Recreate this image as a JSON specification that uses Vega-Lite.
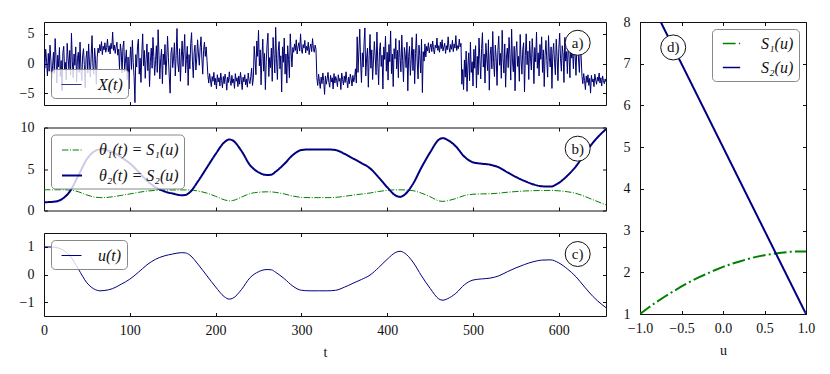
{
  "$schema": "https://vega.github.io/schema/vega-lite/v6.json",
  "padding": {"left": 18, "top": 14, "right": 10, "bottom": 5},
  "background": "white",
  "config": {
    "font": "Liberation Serif, serif",
    "view": {"stroke": "#111", "strokeWidth": 1},
    "axis": {"domain": false, "grid": false, "tickSize": -3.5, "tickColor": "#111", "tickWidth": 1, "labelFont": "Liberation Serif, serif", "labelFontSize": 14, "labelColor": "#111", "labelFlush": false, "labelOverlap": false, "titleFont": "Liberation Serif, serif", "titleFontSize": 14, "titleFontWeight": "normal", "titleColor": "#111", "minExtent": 0},
    "axisX": {"labelPadding": 10.5, "titlePadding": 8},
    "axisY": {"labelPadding": 13.5},
    "legend": {"title": null, "fillColor": "rgba(255,255,255,0.8)", "strokeColor": "#888", "cornerRadius": 4, "padding": 5, "labelFont": "Liberation Serif, serif", "labelFontSize": 16, "labelFontStyle": "italic", "labelColor": "#111", "symbolType": "stroke", "symbolSize": 400, "symbolOffset": 5, "labelOffset": 16, "rowPadding": 6, "offset": 7}
  },
  "datasets": {
    "noise": [
      {"t":0,"x":1.2},{"t":1,"x":-0.8},{"t":2,"x":2.4},{"t":3,"x":0.3},{"t":4,"x":-2.1},{"t":5,"x":1.7},{"t":6,"x":-1.3},{"t":7,"x":3.1},{"t":8,"x":0.6},{"t":9,"x":-2.6},{"t":10,"x":-0.4},{"t":11,"x":1.9},{"t":12,"x":-1.7},{"t":13,"x":4.2},{"t":14,"x":0.9},{"t":15,"x":-3.3},{"t":16,"x":1.4},{"t":17,"x":-0.6},{"t":18,"x":2.7},{"t":19,"x":-2.2},{"t":20,"x":0.5},{"t":21,"x":-4.6},{"t":22,"x":1.8},{"t":23,"x":2.9},{"t":24,"x":-1.1},{"t":25,"x":0.2},{"t":26,"x":-2.8},{"t":27,"x":3.4},{"t":28,"x":1.1},{"t":29,"x":-0.9},{"t":30,"x":2.2},{"t":31,"x":-1.9},{"t":32,"x":5.1},{"t":33,"x":0.4},{"t":34,"x":-2.4},{"t":35,"x":1.6},{"t":36,"x":-0.3},{"t":37,"x":2.8},{"t":38,"x":-3.1},{"t":39,"x":0.8},{"t":40,"x":1.9},{"t":41,"x":-1.5},{"t":42,"x":3.6},{"t":43,"x":-0.7},{"t":44,"x":-2.9},{"t":45,"x":1.3},{"t":46,"x":2.5},{"t":47,"x":-0.2},{"t":48,"x":-4.1},{"t":49,"x":0.9},{"t":50,"x":2.1},{"t":51,"x":-1.6},{"t":52,"x":3.3},{"t":53,"x":0.1},{"t":54,"x":-2.3},{"t":55,"x":1.5},{"t":56,"x":4.7},{"t":57,"x":-0.5},{"t":58,"x":-1.8},{"t":59,"x":2.6},{"t":60,"x":0.7},{"t":61,"x":-3.5},{"t":62,"x":1.0},
      {"t":63,"x":2.6},{"t":64,"x":1.8},{"t":65,"x":3.2},{"t":66,"x":2.1},{"t":67,"x":3.7},{"t":68,"x":1.5},{"t":69,"x":2.9},{"t":70,"x":2.3},{"t":71,"x":3.5},{"t":72,"x":1.9},{"t":73,"x":2.7},{"t":74,"x":4.1},{"t":75,"x":2.0},{"t":76,"x":3.0},{"t":77,"x":1.6},{"t":78,"x":3.4},{"t":79,"x":2.5},{"t":80,"x":5.3},{"t":81,"x":2.2},{"t":82,"x":3.1},{"t":83,"x":1.7},{"t":84,"x":2.8},{"t":85,"x":3.6},{"t":86,"x":1.4},{"t":87,"x":2.4},{"t":88,"x":-0.9},{"t":89,"x":3.3},{"t":90,"x":2.0},{"t":91,"x":-1.6},{"t":92,"x":2.7},{"t":93,"x":3.8},
      {"t":94,"x":-1.4},{"t":95,"x":0.6},{"t":96,"x":2.3},{"t":97,"x":-2.7},{"t":98,"x":1.1},{"t":99,"x":-4.3},{"t":100,"x":0.4},{"t":101,"x":2.8},{"t":102,"x":-1.0},{"t":103,"x":3.9},{"t":104,"x":0.2},{"t":105,"x":-2.2},{"t":106,"x":-6.6},{"t":107,"x":1.5},{"t":108,"x":-0.6},{"t":109,"x":2.9},{"t":110,"x":4.1},{"t":111,"x":-1.8},{"t":112,"x":0.9},{"t":113,"x":-3.2},{"t":114,"x":1.7},{"t":115,"x":5.0},{"t":116,"x":-0.4},{"t":117,"x":2.2},{"t":118,"x":-2.5},{"t":119,"x":0.7},{"t":120,"x":3.3},{"t":121,"x":-1.2},{"t":122,"x":1.9},{"t":123,"x":-3.9},{"t":124,"x":0.3},{"t":125,"x":2.6},{"t":126,"x":-0.8},{"t":127,"x":4.4},{"t":128,"x":1.2},{"t":129,"x":-2.0},{"t":130,"x":0.5},{"t":131,"x":3.0},{"t":132,"x":-1.5},{"t":133,"x":5.7},{"t":134,"x":1.4},{"t":135,"x":-2.6},{"t":136,"x":0.8},{"t":137,"x":2.4},{"t":138,"x":-3.4},{"t":139,"x":1.6},{"t":140,"x":-0.2},{"t":141,"x":3.2},{"t":142,"x":-1.9},{"t":143,"x":0.6},{"t":144,"x":4.6},{"t":145,"x":1.0},{"t":146,"x":-2.3},{"t":147,"x":-5.0},{"t":148,"x":1.8},{"t":149,"x":2.7},{"t":150,"x":-0.7},{"t":151,"x":0.9},{"t":152,"x":3.5},{"t":153,"x":-2.1},{"t":154,"x":1.3},{"t":155,"x":5.9},{"t":156,"x":0.1},{"t":157,"x":-1.4},{"t":158,"x":2.5},{"t":159,"x":-3.0},{"t":160,"x":1.1},{"t":161,"x":3.8},{"t":162,"x":-0.5},{"t":163,"x":2.0},{"t":164,"x":4.9},{"t":165,"x":-1.6},{"t":166,"x":0.7},{"t":167,"x":2.9},{"t":168,"x":-3.7},{"t":169,"x":1.5},{"t":170,"x":-0.9},{"t":171,"x":3.4},{"t":172,"x":5.2},{"t":173,"x":0.4},{"t":174,"x":-2.4},{"t":175,"x":1.9},{"t":176,"x":3.1},{"t":177,"x":-1.1},{"t":178,"x":0.8},{"t":179,"x":4.0},{"t":180,"x":1.6},{"t":181,"x":-0.3},{"t":182,"x":2.7},{"t":183,"x":4.5},{"t":184,"x":0.9},{"t":185,"x":-1.8},{"t":186,"x":2.2},{"t":187,"x":3.6},{"t":188,"x":1.2},{"t":189,"x":2.8},{"t":190,"x":0.5},
      {"t":191,"x":-2.0},{"t":192,"x":-3.3},{"t":193,"x":-1.7},{"t":194,"x":-2.8},{"t":195,"x":-3.9},{"t":196,"x":-2.2},{"t":197,"x":-3.0},{"t":198,"x":-1.5},{"t":199,"x":-3.6},{"t":200,"x":-2.5},{"t":201,"x":-4.3},{"t":202,"x":-1.9},{"t":203,"x":-3.1},{"t":204,"x":-2.4},{"t":205,"x":-3.8},{"t":206,"x":-1.6},{"t":207,"x":-2.9},{"t":208,"x":-4.1},{"t":209,"x":-2.2},{"t":210,"x":-3.4},{"t":211,"x":-1.8},{"t":212,"x":-2.7},{"t":213,"x":-4.5},{"t":214,"x":-2.3},{"t":215,"x":-3.2},{"t":216,"x":-1.4},{"t":217,"x":-2.9},{"t":218,"x":-3.7},{"t":219,"x":-2.0},{"t":220,"x":-3.3},{"t":221,"x":-2.6},{"t":222,"x":-4.2},{"t":223,"x":-1.7},{"t":224,"x":-3.0},{"t":225,"x":-2.4},{"t":226,"x":-3.9},{"t":227,"x":-2.1},{"t":228,"x":-3.5},{"t":229,"x":-1.5},{"t":230,"x":-2.8},{"t":231,"x":-4.4},{"t":232,"x":-2.3},{"t":233,"x":-3.1},{"t":234,"x":-1.9},{"t":235,"x":-3.6},{"t":236,"x":-2.6},{"t":237,"x":-4.0},{"t":238,"x":-1.6},{"t":239,"x":-2.9},{"t":240,"x":-3.4},{"t":241,"x":-2.2},{"t":242,"x":-0.8},{"t":243,"x":-3.7},{"t":244,"x":-2.5},
      {"t":245,"x":2.9},{"t":246,"x":0.6},{"t":247,"x":-1.9},{"t":248,"x":3.8},{"t":249,"x":1.2},{"t":250,"x":5.6},{"t":251,"x":-0.4},{"t":252,"x":2.3},{"t":253,"x":-3.6},{"t":254,"x":0.9},{"t":255,"x":4.1},{"t":256,"x":-1.3},{"t":257,"x":1.7},{"t":258,"x":-4.4},{"t":259,"x":0.3},{"t":260,"x":3.2},{"t":261,"x":5.1},{"t":262,"x":-2.2},{"t":263,"x":1.0},{"t":264,"x":-0.7},{"t":265,"x":2.6},{"t":266,"x":-3.0},{"t":267,"x":4.4},{"t":268,"x":1.5},{"t":269,"x":-1.6},{"t":270,"x":6.1},{"t":271,"x":0.8},{"t":272,"x":-2.7},{"t":273,"x":2.1},{"t":274,"x":3.7},{"t":275,"x":-0.9},{"t":276,"x":1.3},{"t":277,"x":-4.8},{"t":278,"x":2.8},{"t":279,"x":0.2},{"t":280,"x":4.3},{"t":281,"x":-1.8},{"t":282,"x":1.6},{"t":283,"x":-3.3},{"t":284,"x":3.0},{"t":285,"x":0.7},{"t":286,"x":-2.4},{"t":287,"x":5.0},{"t":288,"x":1.9},{"t":289,"x":-0.6},
      {"t":290,"x":2.7},{"t":291,"x":1.9},{"t":292,"x":3.3},{"t":293,"x":2.2},{"t":294,"x":4.0},{"t":295,"x":1.6},{"t":296,"x":2.8},{"t":297,"x":3.5},{"t":298,"x":2.1},{"t":299,"x":5.0},{"t":300,"x":2.4},{"t":301,"x":1.7},{"t":302,"x":3.2},{"t":303,"x":2.6},{"t":304,"x":3.9},{"t":305,"x":1.8},{"t":306,"x":2.9},{"t":307,"x":2.2},{"t":308,"x":3.6},{"t":309,"x":1.5},{"t":310,"x":2.7},{"t":311,"x":3.3},{"t":312,"x":2.0},{"t":313,"x":4.2},{"t":314,"x":2.5},{"t":315,"x":1.9},{"t":316,"x":3.1},{"t":317,"x":2.4},
      {"t":318,"x":-2.4},{"t":319,"x":-3.7},{"t":320,"x":-1.8},{"t":321,"x":-3.0},{"t":322,"x":-4.2},{"t":323,"x":-2.3},{"t":324,"x":-3.4},{"t":325,"x":-1.6},{"t":326,"x":-2.9},{"t":327,"x":-5.2},{"t":328,"x":-2.1},{"t":329,"x":-3.5},{"t":330,"x":-2.6},{"t":331,"x":-1.5},{"t":332,"x":-3.2},{"t":333,"x":-4.0},{"t":334,"x":-2.0},{"t":335,"x":-3.1},{"t":336,"x":-2.4},{"t":337,"x":-4.3},{"t":338,"x":-1.7},{"t":339,"x":-3.3},{"t":340,"x":-2.2},{"t":341,"x":-2.8},{"t":342,"x":-3.9},{"t":343,"x":-1.9},{"t":344,"x":-3.0},{"t":345,"x":-2.5},{"t":346,"x":-4.4},{"t":347,"x":-1.6},{"t":348,"x":-2.7},{"t":349,"x":-3.6},{"t":350,"x":-2.1},{"t":351,"x":-3.2},{"t":352,"x":-1.4},{"t":353,"x":-2.9},{"t":354,"x":-4.1},{"t":355,"x":-2.3},{"t":356,"x":-3.4},{"t":357,"x":-1.8},{"t":358,"x":-2.6},{"t":359,"x":-3.8},{"t":360,"x":-2.0},{"t":361,"x":-3.1},{"t":362,"x":-2.4},{"t":363,"x":-0.9},{"t":364,"x":-3.3},
      {"t":365,"x":4.5},{"t":366,"x":-1.5},{"t":367,"x":2.1},{"t":368,"x":5.8},{"t":369,"x":0.4},{"t":370,"x":-3.2},{"t":371,"x":1.8},{"t":372,"x":-0.6},{"t":373,"x":3.4},{"t":374,"x":6.0},{"t":375,"x":-2.1},{"t":376,"x":0.9},{"t":377,"x":2.6},{"t":378,"x":-4.0},{"t":379,"x":1.3},{"t":380,"x":4.9},{"t":381,"x":-0.8},{"t":382,"x":2.3},{"t":383,"x":-2.7},{"t":384,"x":0.6},{"t":385,"x":3.7},{"t":386,"x":1.1},{"t":387,"x":-1.9},{"t":388,"x":5.3},{"t":389,"x":0.2},{"t":390,"x":-3.6},{"t":391,"x":2.0},{"t":392,"x":3.5},{"t":393,"x":-0.5},{"t":394,"x":1.4},{"t":395,"x":-4.3},{"t":396,"x":2.8},{"t":397,"x":0.7},{"t":398,"x":4.6},{"t":399,"x":-1.3},{"t":400,"x":1.9},{"t":401,"x":-2.8},{"t":402,"x":3.2},{"t":403,"x":0.3},{"t":404,"x":5.5},{"t":405,"x":-1.7},{"t":406,"x":1.6},{"t":407,"x":-3.9},{"t":408,"x":2.5},{"t":409,"x":0.8},{"t":410,"x":4.2},{"t":411,"x":-0.9},{"t":412,"x":2.2},{"t":413,"x":-2.4},{"t":414,"x":3.9},{"t":415,"x":1.0},{"t":416,"x":-1.4},{"t":417,"x":4.8},{"t":418,"x":0.5},{"t":419,"x":-3.1},{"t":420,"x":2.7},{"t":421,"x":1.5},{"t":422,"x":-0.7},{"t":423,"x":3.6},{"t":424,"x":-4.6},{"t":425,"x":1.2},{"t":426,"x":2.9},{"t":427,"x":-2.0},{"t":428,"x":0.6},{"t":429,"x":4.4},{"t":430,"x":-1.2},{"t":431,"x":2.4},{"t":432,"x":-3.4},{"t":433,"x":1.7},{"t":434,"x":5.0},{"t":435,"x":0.1},{"t":436,"x":-2.6},{"t":437,"x":3.1},{"t":438,"x":1.3},{"t":439,"x":-1.6},{"t":440,"x":4.1},{"t":441,"x":-4.9},{"t":442,"x":2.0},{"t":443,"x":0.4},{"t":444,"x":3.3},{"t":445,"x":1.1},
      {"t":446,"x":2.9},{"t":447,"x":2.1},{"t":448,"x":3.5},{"t":449,"x":1.8},{"t":450,"x":2.7},{"t":451,"x":3.3},{"t":452,"x":2.0},{"t":453,"x":3.8},{"t":454,"x":2.4},{"t":455,"x":1.6},{"t":456,"x":3.1},{"t":457,"x":2.6},{"t":458,"x":4.3},{"t":459,"x":2.2},{"t":460,"x":3.0},{"t":461,"x":1.9},{"t":462,"x":3.6},{"t":463,"x":2.5},{"t":464,"x":4.0},{"t":465,"x":2.1},{"t":466,"x":2.8},{"t":467,"x":3.4},{"t":468,"x":1.7},{"t":469,"x":3.0},{"t":470,"x":2.3},{"t":471,"x":4.5},{"t":472,"x":2.7},{"t":473,"x":1.9},{"t":474,"x":3.2},{"t":475,"x":2.4},{"t":476,"x":3.9},{"t":477,"x":2.0},{"t":478,"x":3.3},{"t":479,"x":2.6},{"t":480,"x":4.7},{"t":481,"x":2.2},{"t":482,"x":3.0},{"t":483,"x":2.5},{"t":484,"x":4.1},{"t":485,"x":2.8},{"t":486,"x":3.4},
      {"t":487,"x":-3.5},{"t":488,"x":-1.0},{"t":489,"x":-4.4},{"t":490,"x":0.6},{"t":491,"x":-2.3},{"t":492,"x":2.1},{"t":493,"x":-4.7},{"t":494,"x":-0.4},{"t":495,"x":1.8},{"t":496,"x":-2.9},{"t":497,"x":3.6},{"t":498,"x":-1.5},{"t":499,"x":0.3},{"t":500,"x":-3.8},{"t":501,"x":2.4},{"t":502,"x":-0.8},{"t":503,"x":3.0},{"t":504,"x":-4.1},{"t":505,"x":1.2},{"t":506,"x":-1.9},{"t":507,"x":4.3},{"t":508,"x":0.7},{"t":509,"x":-2.6},{"t":510,"x":2.5},{"t":511,"x":5.2},{"t":512,"x":-0.6},{"t":513,"x":1.6},{"t":514,"x":-3.3},{"t":515,"x":3.4},{"t":516,"x":0.9},{"t":517,"x":-1.2},{"t":518,"x":4.0},{"t":519,"x":-4.5},{"t":520,"x":1.4},{"t":521,"x":2.8},{"t":522,"x":-0.9},{"t":523,"x":5.4},{"t":524,"x":0.2},{"t":525,"x":-2.2},{"t":526,"x":3.1},{"t":527,"x":1.0},{"t":528,"x":-3.7},{"t":529,"x":2.2},{"t":530,"x":4.6},{"t":531,"x":-0.3},{"t":532,"x":1.7},{"t":533,"x":-2.5},{"t":534,"x":5.6},{"t":535,"x":0.8},{"t":536,"x":-1.6},{"t":537,"x":3.3},{"t":538,"x":-4.0},{"t":539,"x":1.1},{"t":540,"x":2.6},{"t":541,"x":-0.7},{"t":542,"x":4.4},{"t":543,"x":1.5},{"t":544,"x":-2.8},{"t":545,"x":5.8},{"t":546,"x":0.4},{"t":547,"x":-1.4},{"t":548,"x":2.9},{"t":549,"x":-4.6},{"t":550,"x":1.9},{"t":551,"x":3.7},{"t":552,"x":-0.5},{"t":553,"x":1.2},{"t":554,"x":-3.0},{"t":555,"x":4.9},{"t":556,"x":0.6},{"t":557,"x":-1.8},{"t":558,"x":2.4},{"t":559,"x":3.5},{"t":560,"x":-4.8},{"t":561,"x":1.3},{"t":562,"x":5.0},{"t":563,"x":-0.2},{"t":564,"x":2.1},{"t":565,"x":-2.7},{"t":566,"x":3.8},{"t":567,"x":0.9},{"t":568,"x":-1.1},{"t":569,"x":4.2},{"t":570,"x":1.6},{"t":571,"x":-3.4},{"t":572,"x":2.7},{"t":573,"x":0.3},{"t":574,"x":5.3},{"t":575,"x":-0.8},{"t":576,"x":1.8},{"t":577,"x":-2.1},{"t":578,"x":3.2},{"t":579,"x":0.7},{"t":580,"x":4.5},{"t":581,"x":-1.5},{"t":582,"x":2.3},{"t":583,"x":-3.9},{"t":584,"x":1.4},{"t":585,"x":3.9},{"t":586,"x":0.5},{"t":587,"x":-2.3},{"t":588,"x":4.7},{"t":589,"x":1.0},{"t":590,"x":-0.6},{"t":591,"x":2.8},{"t":592,"x":-4.2},{"t":593,"x":1.7},{"t":594,"x":3.4},{"t":595,"x":0.2},{"t":596,"x":-1.9},{"t":597,"x":4.1},{"t":598,"x":1.2},{"t":599,"x":-2.9},{"t":600,"x":2.5},{"t":601,"x":5.1},{"t":602,"x":0.8},{"t":603,"x":-1.3},{"t":604,"x":3.0},{"t":605,"x":1.6},{"t":606,"x":-3.2},{"t":607,"x":4.4},{"t":608,"x":0.4},{"t":609,"x":2.0},{"t":610,"x":-1.7},{"t":611,"x":3.6},{"t":612,"x":1.1},{"t":613,"x":-2.4},{"t":614,"x":4.8},{"t":615,"x":0.9},{"t":616,"x":2.2},{"t":617,"x":-0.9},{"t":618,"x":3.3},{"t":619,"x":1.5},{"t":620,"x":-2.0},{"t":621,"x":2.6},{"t":622,"x":4.0},{"t":623,"x":0.6},{"t":624,"x":-1.5},{"t":625,"x":2.9},{"t":626,"x":1.3},
      {"t":627,"x":-2.2},{"t":628,"x":-3.4},{"t":629,"x":-1.7},{"t":630,"x":-2.9},{"t":631,"x":-4.4},{"t":632,"x":-2.1},{"t":633,"x":-3.2},{"t":634,"x":-1.9},{"t":635,"x":-3.7},{"t":636,"x":-2.5},{"t":637,"x":-5.0},{"t":638,"x":-2.0},{"t":639,"x":-3.1},{"t":640,"x":-2.6},{"t":641,"x":-3.9},{"t":642,"x":-1.8},{"t":643,"x":-2.8},{"t":644,"x":-3.5},{"t":645,"x":-2.3},{"t":646,"x":-3.0},{"t":647,"x":-1.6},{"t":648,"x":-3.3},{"t":649,"x":-2.4},{"t":650,"x":-3.8},{"t":651,"x":-2.1},{"t":652,"x":-2.9},{"t":653,"x":-3.4},{"t":654,"x":-2.6},{"t":655,"x":-3.1}
    ],
    "traj": [
      {"t":0,"u":1.00,"th1":2.50,"th2":1.00},{"t":10,"u":0.99,"th1":2.50,"th2":1.04},{"t":20,"u":0.92,"th1":2.50,"th2":1.32},{"t":30,"u":0.68,"th1":2.46,"th2":2.28},{"t":40,"u":0.20,"th1":2.26,"th2":4.20},{"t":50,"u":-0.30,"th1":1.87,"th2":6.20},{"t":60,"u":-0.55,"th1":1.60,"th2":7.20},{"t":65,"u":-0.59,"th1":1.55,"th2":7.36},{"t":70,"u":-0.58,"th1":1.56,"th2":7.32},{"t":80,"u":-0.51,"th1":1.65,"th2":7.04},{"t":90,"u":-0.35,"th1":1.82,"th2":6.40},{"t":100,"u":-0.17,"th1":1.99,"th2":5.68},{"t":110,"u":0.08,"th1":2.18,"th2":4.68},{"t":120,"u":0.35,"th1":2.34,"th2":3.60},{"t":130,"u":0.55,"th1":2.42,"th2":2.80},{"t":140,"u":0.67,"th1":2.46,"th2":2.32},{"t":150,"u":0.74,"th1":2.47,"th2":2.04},{"t":160,"u":0.79,"th1":2.48,"th2":1.84},{"t":165,"u":0.78,"th1":2.48,"th2":1.88},{"t":170,"u":0.70,"th1":2.47,"th2":2.20},{"t":180,"u":0.35,"th1":2.34,"th2":3.60},{"t":190,"u":-0.05,"th1":2.09,"th2":5.20},{"t":200,"u":-0.45,"th1":1.71,"th2":6.80},{"t":210,"u":-0.80,"th1":1.29,"th2":8.20},{"t":216,"u":-0.89,"th1":1.16,"th2":8.56},{"t":220,"u":-0.86,"th1":1.20,"th2":8.44},{"t":230,"u":-0.55,"th1":1.60,"th2":7.20},{"t":240,"u":-0.12,"th1":2.03,"th2":5.48},{"t":250,"u":0.10,"th1":2.20,"th2":4.60},{"t":260,"u":0.18,"th1":2.25,"th2":4.28},{"t":265,"u":0.17,"th1":2.24,"th2":4.32},{"t":270,"u":0.08,"th1":2.18,"th2":4.68},{"t":280,"u":-0.15,"th1":2.00,"th2":5.60},{"t":290,"u":-0.42,"th1":1.74,"th2":6.68},{"t":300,"u":-0.57,"th1":1.58,"th2":7.28},{"t":310,"u":-0.59,"th1":1.55,"th2":7.36},{"t":320,"u":-0.59,"th1":1.55,"th2":7.36},{"t":330,"u":-0.59,"th1":1.55,"th2":7.36},{"t":340,"u":-0.57,"th1":1.58,"th2":7.28},{"t":350,"u":-0.46,"th1":1.70,"th2":6.84},{"t":360,"u":-0.32,"th1":1.85,"th2":6.28},{"t":370,"u":-0.18,"th1":1.98,"th2":5.72},{"t":380,"u":-0.02,"th1":2.11,"th2":5.08},{"t":390,"u":0.25,"th1":2.29,"th2":4.00},{"t":400,"u":0.55,"th1":2.42,"th2":2.80},{"t":410,"u":0.80,"th1":2.49,"th2":1.80},{"t":415,"u":0.84,"th1":2.49,"th2":1.64},{"t":420,"u":0.78,"th1":2.48,"th2":1.88},{"t":430,"u":0.45,"th1":2.39,"th2":3.20},{"t":440,"u":-0.05,"th1":2.09,"th2":5.20},{"t":450,"u":-0.50,"th1":1.66,"th2":7.00},{"t":460,"u":-0.88,"th1":1.17,"th2":8.52},{"t":465,"u":-0.93,"th1":1.10,"th2":8.72},{"t":470,"u":-0.88,"th1":1.17,"th2":8.52},{"t":480,"u":-0.68,"th1":1.44,"th2":7.72},{"t":490,"u":-0.37,"th1":1.80,"th2":6.48},{"t":500,"u":-0.20,"th1":1.96,"th2":5.80},{"t":510,"u":-0.16,"th1":2.00,"th2":5.64},{"t":520,"u":-0.13,"th1":2.02,"th2":5.52},{"t":530,"u":-0.05,"th1":2.09,"th2":5.20},{"t":540,"u":0.10,"th1":2.20,"th2":4.60},{"t":550,"u":0.24,"th1":2.28,"th2":4.04},{"t":560,"u":0.36,"th1":2.35,"th2":3.56},{"t":570,"u":0.46,"th1":2.39,"th2":3.16},{"t":580,"u":0.52,"th1":2.41,"th2":2.92},{"t":590,"u":0.53,"th1":2.42,"th2":2.88},{"t":600,"u":0.42,"th1":2.37,"th2":3.32},{"t":610,"u":0.20,"th1":2.26,"th2":4.20},{"t":620,"u":-0.08,"th1":2.06,"th2":5.32},{"t":630,"u":-0.45,"th1":1.71,"th2":6.80},{"t":640,"u":-0.80,"th1":1.29,"th2":8.20},{"t":650,"u":-1.08,"th1":0.88,"th2":9.32},{"t":655,"u":-1.20,"th1":0.69,"th2":9.80}
    ],
    "curves": [
      {"u":-1.0,"S1":1.00,"S2":9.0},{"u":-0.9,"S1":1.15,"S2":8.6},{"u":-0.8,"S1":1.29,"S2":8.2},{"u":-0.7,"S1":1.42,"S2":7.8},{"u":-0.6,"S1":1.54,"S2":7.4},{"u":-0.5,"S1":1.66,"S2":7.0},{"u":-0.4,"S1":1.77,"S2":6.6},{"u":-0.3,"S1":1.87,"S2":6.2},{"u":-0.2,"S1":1.96,"S2":5.8},{"u":-0.1,"S1":2.05,"S2":5.4},{"u":0.0,"S1":2.13,"S2":5.0},{"u":0.1,"S1":2.20,"S2":4.6},{"u":0.2,"S1":2.26,"S2":4.2},{"u":0.3,"S1":2.32,"S2":3.8},{"u":0.4,"S1":2.37,"S2":3.4},{"u":0.5,"S1":2.41,"S2":3.0},{"u":0.6,"S1":2.44,"S2":2.6},{"u":0.7,"S1":2.47,"S2":2.2},{"u":0.8,"S1":2.49,"S2":1.8},{"u":0.9,"S1":2.50,"S2":1.4},{"u":1.0,"S1":2.50,"S2":1.0}
    ]
  },
  "resolve": {"scale": {"color": "independent", "strokeDash": "independent", "strokeWidth": "independent"}, "legend": {"color": "independent", "strokeDash": "independent", "strokeWidth": "independent"}},
  "spacing": 15,
  "hconcat": [
    {
      "spacing": 13.5,
      "resolve": {"scale": {"color": "independent", "strokeDash": "independent", "strokeWidth": "independent"}, "legend": {"color": "independent", "strokeDash": "independent", "strokeWidth": "independent"}},
      "vconcat": [
        {
          "width": 562, "height": 83,
          "layer": [
            {
              "data": {"name": "noise"},
              "mark": {"type": "line", "strokeWidth": 1, "clip": true},
              "encoding": {
                "x": {"field": "t", "type": "quantitative", "scale": {"domain": [0, 655], "nice": false, "zero": false}, "axis": {"orient": "bottom", "values": [0,100,200,300,400,500,600], "labels": false, "title": null}},
                "y": {"field": "x", "type": "quantitative", "scale": {"domain": [-7, 7], "nice": false, "zero": false}, "axis": {"orient": "left", "values": [-5,0,5], "title": null}},
                "color": {"datum": "X(t)", "type": "nominal", "scale": {"range": ["#000070"]}, "legend": {"orient": "bottom-left", "symbolStrokeWidth": 0.8, "labelExpr": "'X(t)'"}}
              }
            },
            {
              "data": {"values": [{"t": 622, "x": 3.5, "lab": "a)"}]},
              "mark": {"type": "point", "shape": "circle", "filled": true, "fill": "white", "stroke": "#111", "strokeWidth": 1, "size": 625, "opacity": 1},
              "encoding": {
                "x": {"field": "t", "type": "quantitative", "scale": {"domain": [0, 655], "nice": false, "zero": false}, "axis": {"orient": "top", "values": [0,100,200,300,400,500,600], "labels": false, "title": null}},
                "y": {"field": "x", "type": "quantitative", "scale": {"domain": [-7, 7], "nice": false, "zero": false}, "axis": {"orient": "right", "values": [-5,0,5], "labels": false, "title": null}}
              }
            },
            {
              "data": {"values": [{"t": 622, "x": 3.5, "lab": "a)"}]},
              "mark": {"type": "text", "fontSize": 15, "font": "Liberation Serif, serif", "color": "#111", "baseline": "middle", "align": "center"},
              "encoding": {
                "x": {"field": "t", "type": "quantitative", "axis": null},
                "y": {"field": "x", "type": "quantitative", "axis": null},
                "text": {"field": "lab"}
              }
            }
          ]
        },
        {
          "width": 562, "height": 83,
          "layer": [
            {
              "data": {"name": "traj"},
              "transform": [{"fold": ["th1", "th2"], "as": ["k", "v"]}],
              "mark": {"type": "line", "interpolate": "monotone", "clip": true},
              "encoding": {
                "x": {"field": "t", "type": "quantitative", "scale": {"domain": [0, 655], "nice": false, "zero": false}, "axis": {"orient": "bottom", "values": [0,100,200,300,400,500,600], "labels": false, "title": null}},
                "y": {"field": "v", "type": "quantitative", "scale": {"domain": [0, 10], "nice": false}, "axis": {"orient": "left", "values": [0,5,10], "title": null}},
                "color": {"field": "k", "type": "nominal", "scale": {"domain": ["th1", "th2"], "range": ["#008000", "#000080"]}, "legend": {"orient": "top-left", "labelExpr": "datum.label == 'th1' ? 'θ₁(t) = S₁(u)' : 'θ₂(t) = S₂(u)'"}},
                "strokeDash": {"field": "k", "type": "nominal", "scale": {"domain": ["th1", "th2"], "range": [[6.4, 1.6, 1, 1.6], [1, 0]]}, "legend": {"orient": "top-left", "labelExpr": "datum.label == 'th1' ? 'θ₁(t) = S₁(u)' : 'θ₂(t) = S₂(u)'"}},
                "strokeWidth": {"field": "k", "type": "nominal", "scale": {"domain": ["th1", "th2"], "range": [1, 2]}, "legend": {"orient": "top-left", "labelExpr": "datum.label == 'th1' ? 'θ₁(t) = S₁(u)' : 'θ₂(t) = S₂(u)'"}}
              }
            },
            {
              "data": {"values": [{"t": 622, "v": 7.45, "lab": "b)"}]},
              "mark": {"type": "point", "shape": "circle", "filled": true, "fill": "white", "stroke": "#111", "strokeWidth": 1, "size": 625, "opacity": 1},
              "encoding": {
                "x": {"field": "t", "type": "quantitative", "scale": {"domain": [0, 655], "nice": false, "zero": false}, "axis": {"orient": "top", "values": [0,100,200,300,400,500,600], "labels": false, "title": null}},
                "y": {"field": "v", "type": "quantitative", "scale": {"domain": [0, 10], "nice": false}, "axis": {"orient": "right", "values": [0,5,10], "labels": false, "title": null}}
              }
            },
            {
              "data": {"values": [{"t": 622, "v": 7.45, "lab": "b)"}]},
              "mark": {"type": "text", "fontSize": 15, "font": "Liberation Serif, serif", "color": "#111", "baseline": "middle", "align": "center"},
              "encoding": {
                "x": {"field": "t", "type": "quantitative", "axis": null},
                "y": {"field": "v", "type": "quantitative", "axis": null},
                "text": {"field": "lab"}
              }
            }
          ]
        },
        {
          "width": 562, "height": 83,
          "layer": [
            {
              "data": {"name": "traj"},
              "mark": {"type": "line", "interpolate": "monotone", "strokeWidth": 1, "clip": true},
              "encoding": {
                "x": {"field": "t", "type": "quantitative", "scale": {"domain": [0, 655], "nice": false, "zero": false}, "axis": {"orient": "bottom", "values": [0,100,200,300,400,500,600], "title": "t"}},
                "y": {"field": "u", "type": "quantitative", "scale": {"domain": [-1.5, 1.5], "nice": false}, "axis": {"orient": "left", "values": [-1,0,1], "title": null}},
                "color": {"datum": "u(t)", "type": "nominal", "scale": {"range": ["#000080"]}, "legend": {"orient": "top-left", "symbolStrokeWidth": 1, "labelExpr": "'u(t)'"}}
              }
            },
            {
              "data": {"values": [{"t": 622, "u": 0.74, "lab": "c)"}]},
              "mark": {"type": "point", "shape": "circle", "filled": true, "fill": "white", "stroke": "#111", "strokeWidth": 1, "size": 625, "opacity": 1},
              "encoding": {
                "x": {"field": "t", "type": "quantitative", "scale": {"domain": [0, 655], "nice": false, "zero": false}, "axis": {"orient": "top", "values": [0,100,200,300,400,500,600], "labels": false, "title": null}},
                "y": {"field": "u", "type": "quantitative", "scale": {"domain": [-1.5, 1.5], "nice": false}, "axis": {"orient": "right", "values": [-1,0,1], "labels": false, "title": null}}
              }
            },
            {
              "data": {"values": [{"t": 622, "u": 0.74, "lab": "c)"}]},
              "mark": {"type": "text", "fontSize": 15, "font": "Liberation Serif, serif", "color": "#111", "baseline": "middle", "align": "center"},
              "encoding": {
                "x": {"field": "t", "type": "quantitative", "axis": null},
                "y": {"field": "u", "type": "quantitative", "axis": null},
                "text": {"field": "lab"}
              }
            }
          ]
        }
      ]
    },
    {
      "width": 166, "height": 292,
      "layer": [
        {
          "data": {"name": "curves"},
          "transform": [{"fold": ["S1", "S2"], "as": ["k", "s"]}],
          "mark": {"type": "line", "strokeWidth": 2, "clip": true},
          "encoding": {
            "x": {"field": "u", "type": "quantitative", "scale": {"domain": [-1, 1], "nice": false, "zero": false}, "axis": {"orient": "bottom", "values": [-1,-0.5,0,0.5,1], "format": ".1f", "title": "u"}},
            "y": {"field": "s", "type": "quantitative", "scale": {"domain": [1, 8], "nice": false, "zero": false}, "axis": {"orient": "left", "values": [1,2,3,4,5,6,7,8], "title": null}},
            "color": {"field": "k", "type": "nominal", "scale": {"domain": ["S1", "S2"], "range": ["#008000", "#000080"]}, "legend": {"orient": "top-right", "symbolSize": 300, "labelOffset": 20, "labelExpr": "datum.label == 'S1' ? 'S₁(u)' : 'S₂(u)'"}},
            "strokeDash": {"field": "k", "type": "nominal", "scale": {"domain": ["S1", "S2"], "range": [[12.8, 3.2, 2, 3.2], [1, 0]]}, "legend": {"orient": "top-right", "symbolSize": 300, "labelOffset": 20, "labelExpr": "datum.label == 'S1' ? 'S₁(u)' : 'S₂(u)'"}}
          }
        },
        {
          "data": {"values": [{"u": -0.6, "s": 7.39, "lab": "d)"}]},
          "mark": {"type": "point", "shape": "circle", "filled": true, "fill": "white", "stroke": "#111", "strokeWidth": 1, "size": 625, "opacity": 1},
          "encoding": {
            "x": {"field": "u", "type": "quantitative", "scale": {"domain": [-1, 1], "nice": false, "zero": false}, "axis": {"orient": "top", "values": [-1,-0.5,0,0.5,1], "labels": false, "title": null}},
            "y": {"field": "s", "type": "quantitative", "scale": {"domain": [1, 8], "nice": false, "zero": false}, "axis": {"orient": "right", "values": [1,2,3,4,5,6,7,8], "labels": false, "title": null}}
          }
        },
        {
          "data": {"values": [{"u": -0.6, "s": 7.39, "lab": "d)"}]},
          "mark": {"type": "text", "fontSize": 15, "font": "Liberation Serif, serif", "color": "#111", "baseline": "middle", "align": "center"},
          "encoding": {
            "x": {"field": "u", "type": "quantitative", "axis": null},
            "y": {"field": "s", "type": "quantitative", "axis": null},
            "text": {"field": "lab"}
          }
        }
      ]
    }
  ]
}
